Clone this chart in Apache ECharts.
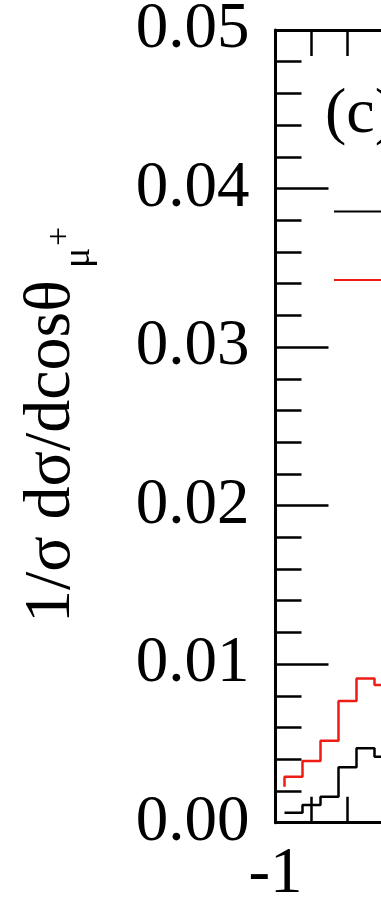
<!DOCTYPE html>
<html>
<head>
<meta charset="utf-8">
<script src="https://cdn.jsdelivr.net/npm/echarts@6/dist/echarts.min.js"></script>
<style>
  html, body { margin: 0; padding: 0; background: #ffffff; }
  #chart { width: 381px; height: 901px; }
</style>
</head>
<body>
<div id="chart"></div>
<script>
// Normalised angular distribution of the mu+ (panel c), histogram bins of width 0.05
const binCenters = [-0.95, -0.90, -0.85, -0.80, -0.75, -0.70];
const binWidth = 0.05;
const blackValues = [0.00063, 0.00112, 0.00164, 0.00349, 0.00469, 0.00416];
const redValues   = [0.00290, 0.00389, 0.00517, 0.00767, 0.00910, 0.00868];
const redEntry = 0.00227;           // level the red curve enters the first bin from
const seriesNames = ['SM', 'SM + Z\u2032'];
const yTickLabels = ['0.00', '0.01', '0.02', '0.03', '0.04', '0.05'];
const xTickLabels = ['-1', '-0.5', '0', '0.5', '1'];

const FONT = '"Liberation Serif", "DejaVu Serif", serif';

// Turn bin values into a histogram-step polyline
function stepPoints(values, entry) {
  const pts = [];
  if (entry != null) pts.push([binCenters[0] - binWidth / 2, entry]);
  values.forEach((v, i) => {
    pts.push([binCenters[i] - binWidth / 2, v]);
    pts.push([binCenters[i] + binWidth / 2, v]);
  });
  return pts;
}

const tickStyle = { color: '#000', width: 2.5 };

function xAxisDef(pos, showLabel) {
  return {
    type: 'value', position: pos, min: -1, max: 1, interval: 0.5,
    axisLine: { show: true, onZero: false, lineStyle: { color: '#000', width: 3 } },
    axisTick: { show: true, inside: true, length: 53, lineStyle: tickStyle },
    minorTick: { show: true, splitNumber: 5, length: 26, lineStyle: tickStyle },
    splitLine: { show: false },
    axisLabel: {
      show: showLabel, margin: 20, color: '#000', fontSize: 65, fontFamily: FONT,
      formatter: v => xTickLabels[Math.round((v + 1) / 0.5)]
    }
  };
}

const chart = echarts.init(document.getElementById('chart'), null, { renderer: 'canvas' });
chart.setOption({
  animation: false,
  backgroundColor: '#ffffff',
  grid: { left: 275.5, top: 30, height: 792.7, width: 720, containLabel: false, outerBoundsMode: 'none' },
  xAxis: [xAxisDef('bottom', true), xAxisDef('top', false)],
  yAxis: {
    type: 'value', min: 0, max: 0.05, interval: 0.01,
    axisLine: { show: true, onZero: false, lineStyle: { color: '#000', width: 3 } },
    axisTick: { show: true, inside: true, length: 53, lineStyle: tickStyle },
    minorTick: { show: true, splitNumber: 5, length: 26, lineStyle: tickStyle },
    splitLine: { show: false },
    axisLabel: {
      margin: 26, color: '#000', fontSize: 65, fontFamily: FONT,
      formatter: v => yTickLabels[Math.round(v / 0.01)]
    }
  },
  legend: {
    orient: 'vertical', left: 328, top: 199.5,
    itemWidth: 120, itemHeight: 14, itemGap: 54.6,
    selectedMode: false,
    textStyle: { fontSize: 14, fontFamily: FONT, color: '#000' },
    data: seriesNames
  },
  graphic: [
    { type: 'text', x: 325, y: 115,
      style: { text: '(c)', font: '64px ' + FONT, fill: '#000', verticalAlign: 'middle', align: 'left' } },
    { type: 'text', x: 52, y: 623, rotation: Math.PI / 2,
      style: { text: '1/\u03c3 d\u03c3/dcos\u03b8', font: '66px ' + FONT, fill: '#000', verticalAlign: 'middle', align: 'left' } },
    { type: 'text', x: 79, y: 268, rotation: Math.PI / 2,
      style: { text: '\u03bc', font: '38px ' + FONT, fill: '#000', verticalAlign: 'middle', align: 'left' } },
    { type: 'text', x: 60, y: 246, rotation: Math.PI / 2,
      style: { text: '+', font: '34px ' + FONT, fill: '#000', verticalAlign: 'middle', align: 'left' } }
  ],
  series: [
    {
      name: seriesNames[0], type: 'line', xAxisIndex: 0, symbol: 'none',
      data: stepPoints(blackValues, null),
      color: '#000000', lineStyle: { color: '#000000', width: 2.5 }
    },
    {
      name: seriesNames[1], type: 'line', xAxisIndex: 0, symbol: 'none',
      data: stepPoints(redValues, redEntry),
      color: '#ee1c14', lineStyle: { color: '#ee1c14', width: 2.5 }
    }
  ]
});
</script>
</body>
</html>
